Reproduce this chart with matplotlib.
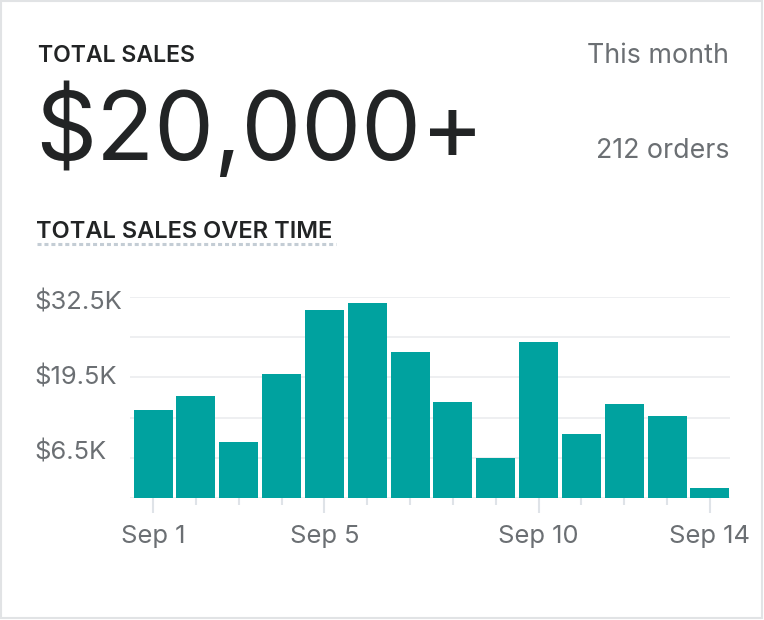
import matplotlib
matplotlib.use("Agg")
import matplotlib.pyplot as plt
from matplotlib.transforms import blended_transform_factory
from matplotlib.patches import Rectangle
from matplotlib.lines import Line2D

# ---- data ----
days = ["Sep 1", "Sep 2", "Sep 3", "Sep 4", "Sep 5", "Sep 6", "Sep 7",
        "Sep 8", "Sep 9", "Sep 10", "Sep 11", "Sep 12", "Sep 13", "Sep 14"]
sales = [14250, 16500, 9050, 20100, 30500, 31500, 23700,
         15550, 6450, 25300, 10350, 15200, 13300, 1600]
ytick_values = [0, 6500, 13000, 19500, 26000, 32500]
ytick_labels = ["$6.5K", "$19.5K", "$32.5K"]
xtick_major_idx = [0, 4, 9, 13]
title = "TOTAL SALES"
big_value = "$20,000+"
period = "This month"
orders = "212 orders"
chart_title = "TOTAL SALES OVER TIME"

FONT = "Inter"
plt.rcParams['font.family'] = [FONT, 'DejaVu Sans']
plt.rcParams['lines.scale_dashes'] = False

W, H = 764, 620
fig = plt.figure(figsize=(W / 100, H / 100), dpi=100)
fig.patch.set_facecolor("white")

def fx(px):
    return px / W

def fy(py):
    return 1 - py / H

dark = "#222425"
gray = "#6b6f73"
teal = "#00a29f"
grid_c = "#e9ebee"
tick_c = "#dfe3e8"

# card border
fig.patches.append(Rectangle((fx(1), fy(618)), fx(761), 617 / H, transform=fig.transFigure,
                             fill=False, edgecolor="#e1e3e5", linewidth=1.5))

# header texts
fig.text(fx(38), fy(62), title, fontsize=16.6, fontweight="semibold", color=dark, va="baseline", ha="left")
fig.text(fx(35), fy(160), big_value, fontsize=68.5, color=dark, va="baseline", ha="left")
fig.text(fx(729), fy(63), period, fontsize=19.3, color=gray, va="baseline", ha="right")
fig.text(fx(729), fy(158), orders, fontsize=19.3, color=gray, va="baseline", ha="right")
fig.text(fx(36), fy(238), chart_title, fontsize=17.0, fontweight="semibold", color=dark, va="baseline", ha="left")
fig.lines.append(Line2D([fx(37), fx(336)], [fy(244.5), fy(244.5)], transform=fig.transFigure,
                        color="#c4cdd5", linewidth=2.2, dashes=(2.9, 2.1), solid_capstyle="butt",
                        dash_capstyle="butt"))

# chart axes
ax_left, ax_right = 130, 730
ax_top, ax_bottom = 297.3, 497.7
ax = fig.add_axes([fx(ax_left), fy(ax_bottom), (ax_right - ax_left) / W, (ax_bottom - ax_top) / H])
x = list(range(len(days)))
ax.bar(x, sales, width=0.91, color=teal, zorder=3)
ax.set_xlim(-0.54, 13.47)
ax.set_ylim(0, 32500)
ax.set_yticks(ytick_values)
ax.set_yticklabels([])
ax.tick_params(axis="y", length=0)
ax.grid(axis="y", color=grid_c, linewidth=1.1, zorder=0)
ax.set_axisbelow(True)
for s in ax.spines.values():
    s.set_visible(False)
ax.set_facecolor("none")
ax.set_xticks(xtick_major_idx)
ax.set_xticklabels([])
ax.set_xticks(x, minor=True)
ax.tick_params(axis="x", which="major", length=10.8, width=1.5, color=tick_c)
ax.tick_params(axis="x", which="minor", length=5.0, width=1.5, color=tick_c)

# y labels: left aligned at x=35px; baselines evenly spaced as in the reference
label_baselines_px = [460, 384.5, 309]
for yb, lab in zip(label_baselines_px, ytick_labels):
    fig.text(fx(34), fy(yb), lab, fontsize=18.4, color=gray, ha="left", va="baseline")

# x labels
xtr = blended_transform_factory(ax.transData, fig.transFigure)
for i in xtick_major_idx:
    ax.text(i, fy(543), days[i], transform=xtr, fontsize=18.4, color=gray, ha="center", va="baseline")

fig.savefig("out.png", dpi=100, facecolor="white")
